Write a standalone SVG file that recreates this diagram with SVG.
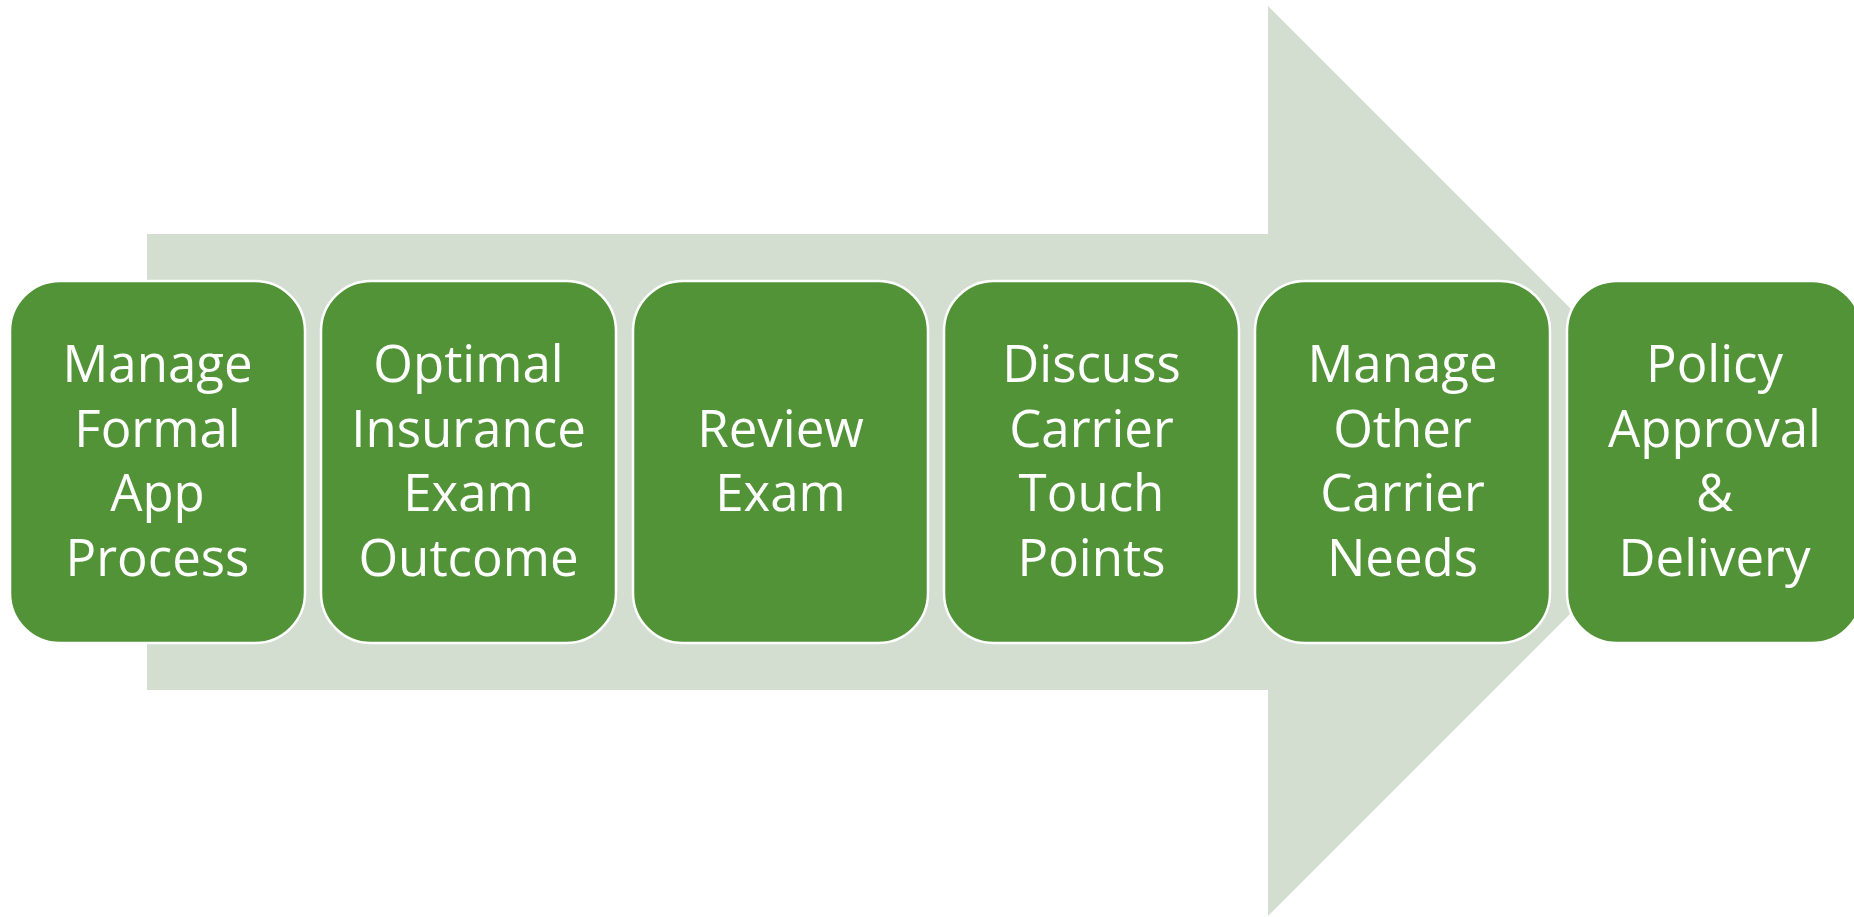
<svg xmlns="http://www.w3.org/2000/svg" width="1854" height="917" viewBox="0 0 1854 917">
<style>
.box{fill:#529338;stroke:#ffffff;stroke-width:2.5}
.lbl{font-family:"Open Sans","Noto Sans","Liberation Sans",sans-serif;font-size:51px;fill:#ffffff;text-anchor:middle}
</style>
<rect width="1854" height="917" fill="#ffffff"/>
<g id="arrow">
<polygon points="147,234 1268,234 1268,6 1723,461 1268,916 1268,690 147,690" fill="#D3DED1"/>
</g>
<g id="node1">
<rect class="box" x="10" y="281" width="295" height="362" rx="50" ry="50"/>
<text class="lbl" x="157.5" y="382">Manage</text>
<text class="lbl" x="157.5" y="446.5">Formal</text>
<text class="lbl" x="157.5" y="511">App</text>
<text class="lbl" x="157.5" y="575.5">Process</text>
</g>
<g id="node2">
<rect class="box" x="321" y="281" width="295" height="362" rx="50" ry="50"/>
<text class="lbl" x="468.5" y="382">Optimal</text>
<text class="lbl" x="468.5" y="446.5">Insurance</text>
<text class="lbl" x="468.5" y="511">Exam</text>
<text class="lbl" x="468.5" y="575.5">Outcome</text>
</g>
<g id="node3">
<rect class="box" x="633" y="281" width="295" height="362" rx="50" ry="50"/>
<text class="lbl" x="780.5" y="446.5">Review</text>
<text class="lbl" x="780.5" y="511">Exam</text>
</g>
<g id="node4">
<rect class="box" x="944" y="281" width="295" height="362" rx="50" ry="50"/>
<text class="lbl" x="1091.5" y="382">Discuss</text>
<text class="lbl" x="1091.5" y="446.5">Carrier</text>
<text class="lbl" x="1091.5" y="511">Touch</text>
<text class="lbl" x="1091.5" y="575.5">Points</text>
</g>
<g id="node5">
<rect class="box" x="1255" y="281" width="295" height="362" rx="50" ry="50"/>
<text class="lbl" x="1402.5" y="382">Manage</text>
<text class="lbl" x="1402.5" y="446.5">Other</text>
<text class="lbl" x="1402.5" y="511">Carrier</text>
<text class="lbl" x="1402.5" y="575.5">Needs</text>
</g>
<g id="node6">
<rect class="box" x="1567" y="281" width="295" height="362" rx="50" ry="50"/>
<text class="lbl" x="1714.5" y="382">Policy</text>
<text class="lbl" x="1714.5" y="446.5">Approval</text>
<text class="lbl" x="1714.5" y="511">&amp;</text>
<text class="lbl" x="1714.5" y="575.5">Delivery</text>
</g>
<g id="connectors"/>
</svg>
